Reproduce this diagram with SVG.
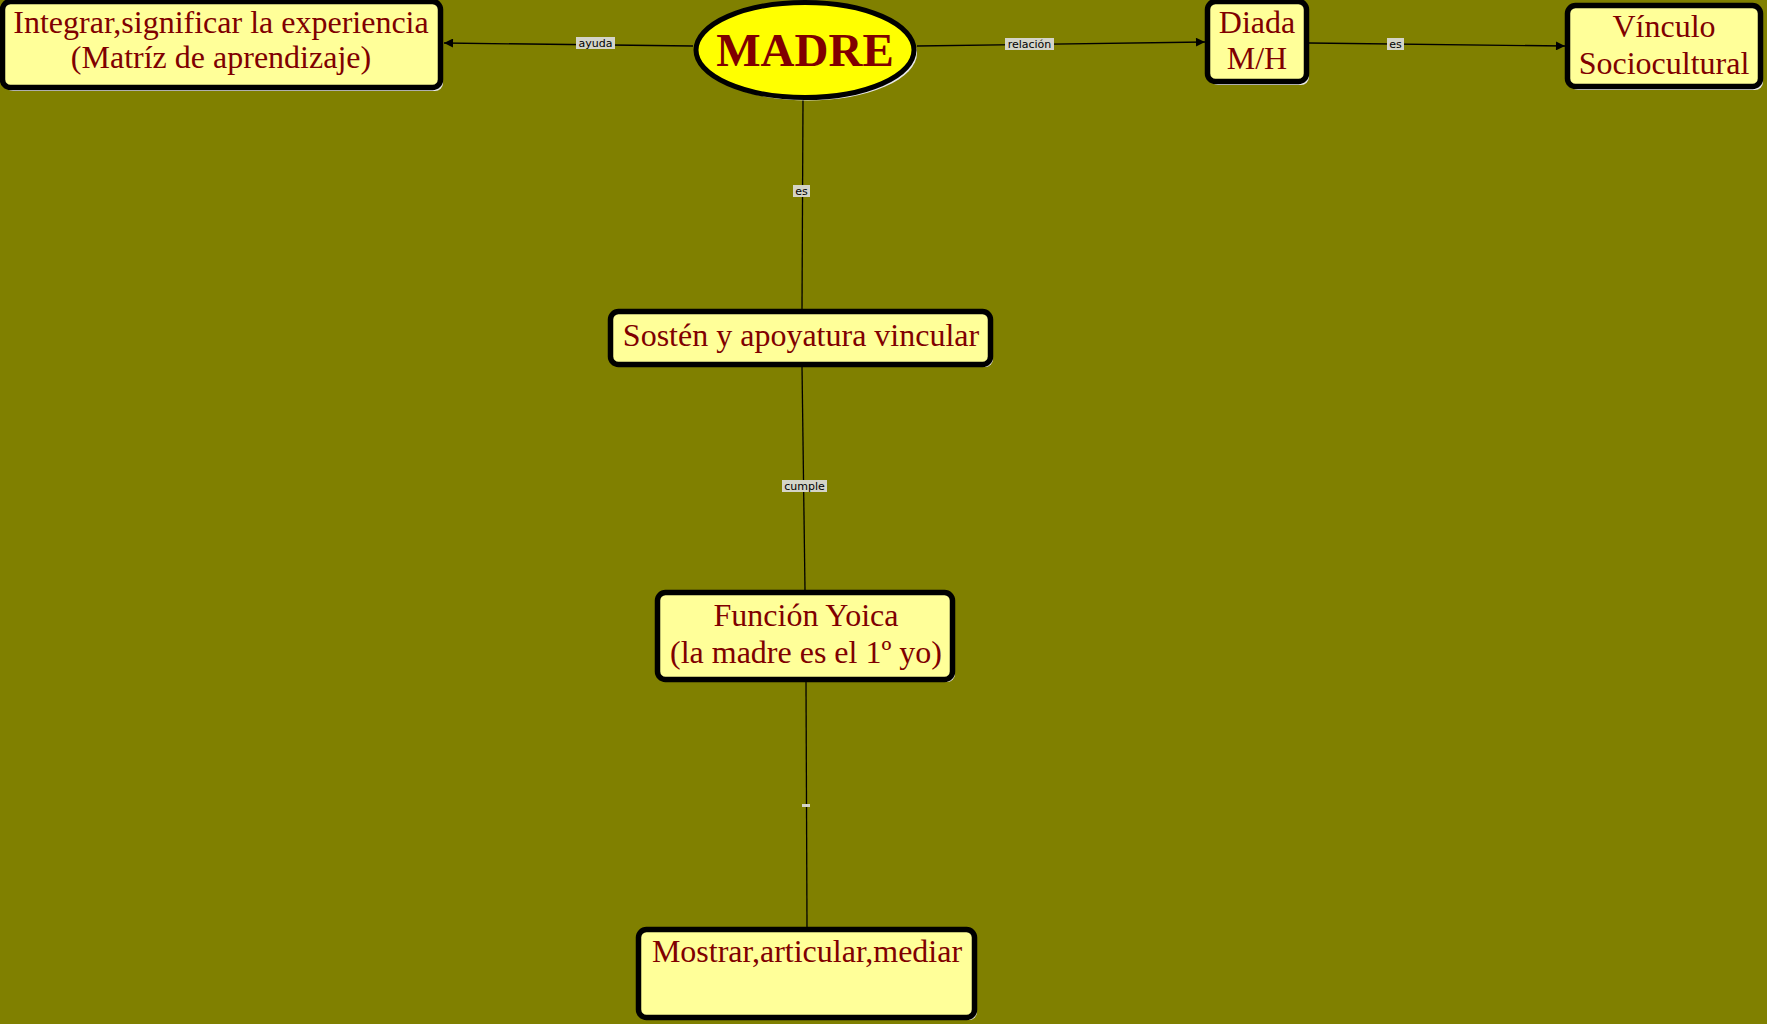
<svg xmlns="http://www.w3.org/2000/svg" width="1767" height="1024" viewBox="0 0 1767 1024">
<style>
.box{fill:#FFFF99;stroke:#000;stroke-width:5.5}
.sh{fill:#E8E8E8}
.t{font-family:"Liberation Serif","Times New Roman",serif;font-size:32px;fill:#800000;text-anchor:middle}
.c{stroke:#000;stroke-width:1.3;fill:none}
.lb{fill:#D4D4C8}
.lt{font-family:"DejaVu Sans",Verdana,sans-serif;font-size:11px;fill:#000;text-anchor:middle}
</style>
<defs>
<marker id="ah" viewBox="0 0 10 10" refX="10" refY="5" markerWidth="10" markerHeight="9" markerUnits="userSpaceOnUse" orient="auto">
<path d="M0,0L10,5L0,10Z" fill="#000"/>
</marker>
</defs>
<rect width="1767" height="1024" fill="#808000"/>
<g id="connectors">
<line class="c" x1="693" y1="46" x2="444" y2="43" marker-end="url(#ah)"/>
<line class="c" x1="917" y1="46" x2="1205" y2="42" marker-end="url(#ah)"/>
<line class="c" x1="1309" y1="43" x2="1565" y2="46" marker-end="url(#ah)"/>
<line class="c" x1="803" y1="100" x2="802" y2="309"/>
<line class="c" x1="802" y1="366" x2="805" y2="590"/>
<line class="c" x1="806" y1="682" x2="807" y2="927"/>
<g id="lbl-ayuda"><rect class="lb" x="576" y="37" width="39" height="12"/><text class="lt" x="595.5" y="47">ayuda</text></g>
<g id="lbl-relacion"><rect class="lb" x="1005" y="38" width="49" height="12"/><text class="lt" x="1029.5" y="48">relación</text></g>
<g id="lbl-es1"><rect class="lb" x="1387" y="38" width="17" height="12"/><text class="lt" x="1395.5" y="48">es</text></g>
<g id="lbl-es2"><rect class="lb" x="793" y="185" width="17" height="12"/><text class="lt" x="801.5" y="195">es</text></g>
<g id="lbl-cumple"><rect class="lb" x="782" y="480" width="45" height="12"/><text class="lt" x="804.5" y="490">cumple</text></g>
<g id="lbl-empty"><rect class="lb" x="802" y="804" width="8" height="3"/></g>
</g>
<g id="n-integrar">
<rect class="sh" x="5" y="4" width="438" height="87" rx="8"/>
<rect class="box" x="2.5" y="1.5" width="438" height="86" rx="8"/>
<text class="t" x="221" y="33">Integrar,significar la experiencia</text>
<text class="t" x="221" y="68">(Matríz de aprendizaje)</text>
</g>
<g id="n-madre">
<ellipse cx="808" cy="53" rx="109" ry="47.5" fill="#E8E8E8"/>
<ellipse cx="805" cy="50" rx="109" ry="47.5" fill="#FFFF00" stroke="#000" stroke-width="5"/>
<text x="805" y="66" font-family="'Liberation Serif','Times New Roman',serif" font-size="47" font-weight="bold" fill="#800000" text-anchor="middle">MADRE</text>
</g>
<g id="n-diada">
<rect class="sh" x="1210" y="4" width="99" height="81" rx="8"/>
<rect class="box" x="1207.5" y="1.5" width="99" height="80" rx="8"/>
<text class="t" x="1257" y="33">Diada</text>
<text class="t" x="1257" y="69">M/H</text>
</g>
<g id="n-vinculo">
<rect class="sh" x="1570" y="8" width="193" height="82" rx="8"/>
<rect class="box" x="1567.5" y="5.5" width="193" height="81" rx="8"/>
<text class="t" x="1664" y="37">Vínculo</text>
<text class="t" x="1664" y="74">Sociocultural</text>
</g>
<g id="n-sosten">
<rect class="sh" x="613" y="314" width="380" height="53" rx="8"/>
<rect class="box" x="610.5" y="311.5" width="380" height="53" rx="8"/>
<text class="t" x="801" y="346">Sostén y apoyatura vincular</text>
</g>
<g id="n-funcion">
<rect class="sh" x="660" y="595" width="295" height="87" rx="8"/>
<rect class="box" x="657.5" y="592.5" width="295" height="87" rx="8"/>
<text class="t" x="806" y="626">Función Yoica</text>
<text class="t" x="806" y="663">(la madre es el 1º yo)</text>
</g>
<g id="n-mostrar">
<rect class="sh" x="641" y="932" width="336" height="88" rx="8"/>
<rect class="box" x="638.5" y="929.5" width="336" height="88" rx="8"/>
<text class="t" x="807" y="962">Mostrar,articular,mediar</text>
</g>
</svg>
